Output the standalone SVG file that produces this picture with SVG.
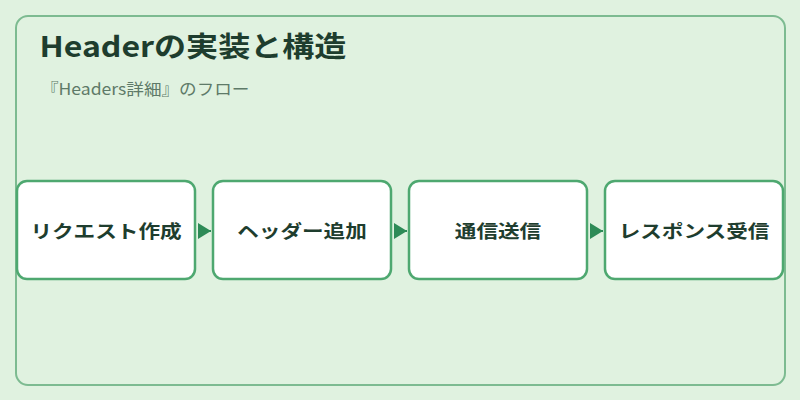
<svg xmlns="http://www.w3.org/2000/svg" width="800" height="400" viewBox="0 0 800 400">
<defs>
<style>
.node rect{fill:#ffffff;stroke:#4ea870;stroke-width:2.5}
.node text{font-family:"Noto Sans CJK JP","Noto Sans",sans-serif;font-size:18px;font-weight:bold;fill:#1e3d2e;text-anchor:middle}
.conn line{stroke:#2e8b57;stroke-width:2}
</style>
<marker id="arr" markerWidth="13" markerHeight="16" refX="13" refY="8" orient="auto" markerUnits="userSpaceOnUse">
<path d="M0,0 L13,8 L0,16 Z" fill="#2e8b57"/>
</marker>
</defs>
<rect width="800" height="400" fill="#e0f2e0"/>
<rect x="16" y="16" width="769" height="369" rx="12" fill="none" stroke="#7dbb91" stroke-width="2"/>
<text transform="translate(39.5,57) scale(1.145,1)" font-family="'Noto Sans CJK JP',sans-serif" font-size="28" font-weight="bold" fill="#1e3d2e">Headerの実装と構造</text>
<text transform="translate(41,95) scale(1.1,1)" font-family="'Noto Sans CJK JP',sans-serif" font-size="16" fill="#5e7a68">『Headers詳細』のフロー</text>
<g class="conn">
<line x1="198" y1="231" x2="211" y2="231" marker-end="url(#arr)"/>
<line x1="394" y1="231" x2="407" y2="231" marker-end="url(#arr)"/>
<line x1="590" y1="231" x2="603" y2="231" marker-end="url(#arr)"/>
</g>
<g id="n1" class="node"><rect x="17" y="181" width="178" height="98" rx="10"/><text transform="translate(106,238) scale(1.2,1)">リクエスト作成</text></g>
<g id="n2" class="node"><rect x="213" y="181" width="178" height="98" rx="10"/><text transform="translate(302,238) scale(1.2,1)">ヘッダー追加</text></g>
<g id="n3" class="node"><rect x="409" y="181" width="178" height="98" rx="10"/><text transform="translate(498,238) scale(1.2,1)">通信送信</text></g>
<g id="n4" class="node"><rect x="605" y="181" width="178" height="98" rx="10"/><text transform="translate(694,238) scale(1.2,1)">レスポンス受信</text></g>
</svg>
